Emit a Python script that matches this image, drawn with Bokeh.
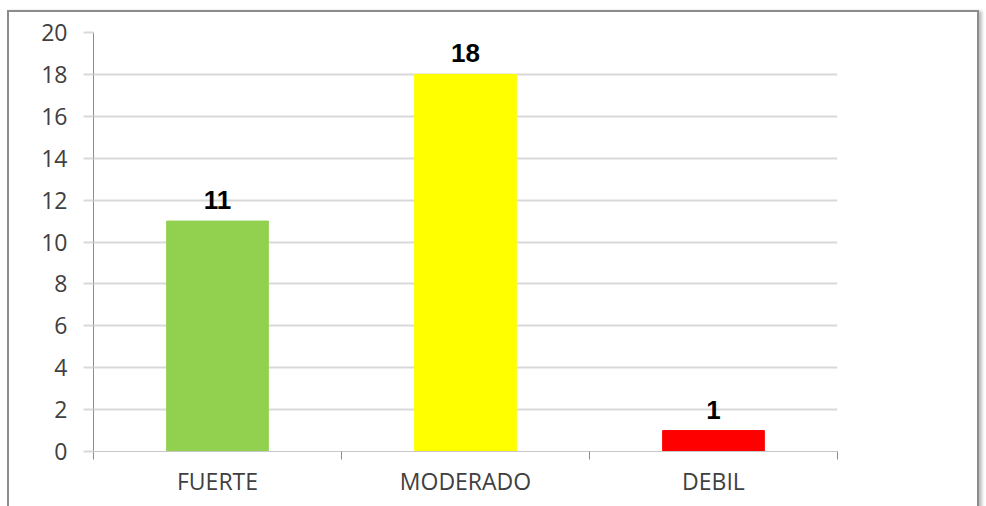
from bokeh.plotting import figure
from bokeh.models import FixedTicker, ColumnDataSource
from bokeh.core.properties import value
from bokeh.embed import file_html
from bokeh.resources import INLINE

# Data
categories = ["FUERTE", "MODERADO", "DEBIL"]
counts = [11, 18, 1]
bar_colors = ["#92D050", "#FFFF00", "#FF0000"]
y_ticks = [0, 2, 4, 6, 8, 10, 12, 14, 16, 18, 20]

centers = [i + 0.5 for i in range(len(categories))]
boundaries = [float(i) for i in range(len(categories) + 1)]

src = ColumnDataSource(dict(
    x=centers,
    top=counts,
    color=bar_colors,
    label=[str(c) for c in counts],
))

p = figure(
    width=986, height=506,
    x_range=(0, len(categories)), y_range=(0, 20),
    output_backend="svg", toolbar_location=None,
    min_border_left=93, min_border_right=149,
    min_border_top=32, min_border_bottom=55,
)
p.outline_line_color = None
p.background_fill_color = "white"
p.border_fill_color = "white"

# Bars and their value labels
p.vbar(x="x", top="top", width=0.41, color="color", source=src)
p.text(
    x="x", y="top", text="label", source=src,
    y_offset=-12, text_align="center", text_baseline="bottom",
    text_font=value("Liberation Sans"), text_font_style="bold",
    text_font_size="26px", text_color="black",
)

label_font = "Open Sans"
label_color = "#404040"

# Category axis: labels at centers, tick marks at category boundaries
xa = p.xaxis[0]
xa.ticker = FixedTicker(ticks=centers, minor_ticks=boundaries)
xa.major_label_overrides = {c: name for c, name in zip(centers, categories)}
xa.major_tick_line_color = None
xa.minor_tick_in = 0
xa.minor_tick_out = 8
xa.minor_tick_line_color = "#8c8c8c"
xa.axis_line_color = "#c8c8c8"
xa.axis_line_width = 1
xa.major_label_standoff = 5
xa.major_label_text_font = label_font
xa.major_label_text_font_size = "23px"
xa.major_label_text_color = label_color

# Value axis
ya = p.yaxis[0]
ya.ticker = FixedTicker(ticks=y_ticks)
ya.major_tick_in = 0
ya.major_tick_out = 10
ya.major_tick_line_color = "#d9d9d9"
ya.major_tick_line_width = 2
ya.minor_tick_line_color = None
ya.axis_line_color = "#8c8c8c"
ya.axis_line_width = 1
ya.major_label_standoff = 16
ya.major_label_text_font = label_font
ya.major_label_text_font_size = "23px"
ya.major_label_text_color = label_color

p.xgrid.visible = False
p.ygrid.ticker = FixedTicker(ticks=y_ticks)
p.ygrid.grid_line_color = "#d9d9d9"
p.ygrid.grid_line_width = 2

# Chart-area border with a soft shadow on the right
p.stylesheets = ["""
:host { position: relative; }
:host::after {
  content: "";
  position: absolute;
  left: 7px; top: 10px; width: 972px; height: 520px;
  box-sizing: border-box;
  border: 2px solid #8c8c8c;
  box-shadow: 3px 1px 3px rgba(0, 0, 0, 0.25);
  pointer-events: none;
  z-index: 10;
}
"""]

open("out.html", "w").write(file_html(p, INLINE))
